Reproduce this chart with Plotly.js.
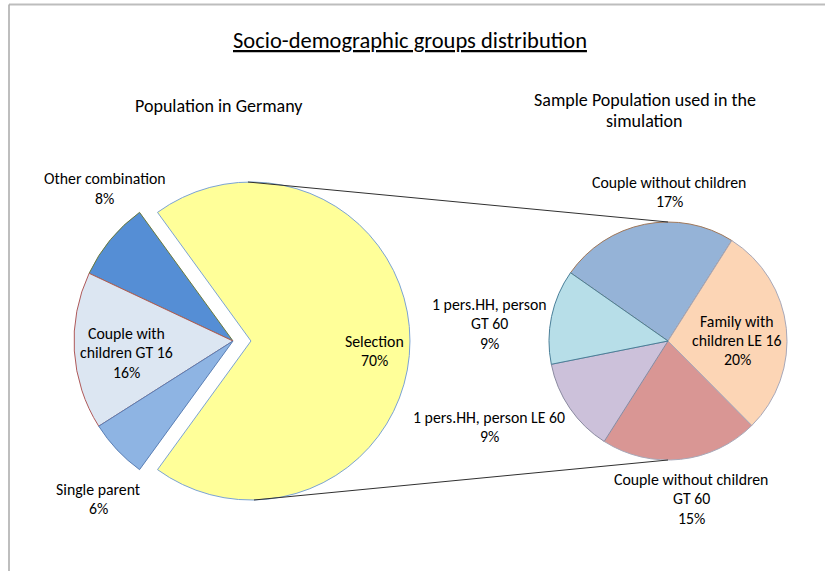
<!DOCTYPE html>
<html><head><meta charset="utf-8">
<script src="https://cdn.plot.ly/plotly-3.0.1.min.js"></script>
<style>html,body{margin:0;padding:0;background:#fff}</style>
</head><body><div id="chart" style="width:825px;height:571px"></div>
<script>
// ---------- data ----------
const chartTitle = 'Socio-demographic groups distribution';
const leftTitle = 'Population in Germany';
const rightTitle = 'Sample Population used in the<br>simulation';

const mainLabels = ['Selection', 'Other combination', 'Couple with children GT 16', 'Single parent'];
const mainText = ['Selection', 'Other combination', 'Couple with<br>children GT 16', 'Single parent'];
const mainValues = [70, 8, 16, 6];

const subLabels = ['Couple without children', 'Family with children LE 16', 'Couple without children GT 60', '1 pers.HH, person LE 60', '1 pers.HH, person GT 60'];
const subText = ['Couple without children', 'Family with<br>children LE 16', 'Couple without children<br>GT 60', '1 pers.HH, person LE 60', '1 pers.HH, person<br>GT 60'];
const subValues = [17, 20, 15, 9, 9];

// ---------- styles / layout ----------
const W = 825, H = 571;
const FONT = 'Carlito, Calibri, Lato, sans-serif';
const mainColors = ['#FFFF99', '#558ED5', '#DCE6F2', '#8EB4E3'];
const mainLines = ['#7BA3D4', '#6B7A3A', '#B05A5A', '#5A7FB5'];
const subColors = ['#95B3D7', '#FCD5B5', '#D99694', '#CCC1DA', '#B7DEE8'];
const subLines = ['#A0785A', '#A8A8B8', '#A8A8B8', '#8A8AA0', '#4A7F99'];

// geometry (pixels)
const L = {cx: 233, cy: 341, r: 159, pull: 0.113};
const R = {cx: 668, cy: 341, r: 119};
// label anchor positions (pixels: centre x, first-line y)
const mainPos = [[374, 341], [105, 179], [126, 333], [98, 489]];
const subPos = [[669, 182], [737, 321], [691, 479], [489, 417], [489, 304]];
const LINE = 19.5;

function domainOf(g, pull) {
  const half = g.r * (1 + (pull || 0));
  return {
    x: [(g.cx - half) / W, (g.cx + half) / W],
    y: [1 - (g.cy + half) / H, 1 - (g.cy - half) / H]
  };
}

const mainPull = mainValues.map((v, i) => i === 0 ? L.pull : 0);

const traces = [
  {
    type: 'pie', labels: mainLabels, values: mainValues, sort: false,
    direction: 'counterclockwise', rotation: -36, pull: mainPull,
    marker: {colors: mainColors, line: {color: mainLines, width: 1}},
    textinfo: 'none', hoverinfo: 'none', showlegend: false,
    domain: domainOf(L, L.pull)
  },
  {
    type: 'pie', labels: subLabels, values: subValues, sort: false,
    direction: 'clockwise', rotation: -55,
    marker: {colors: subColors, line: {color: subLines, width: 1}},
    textinfo: 'none', hoverinfo: 'none', showlegend: false,
    domain: domainOf(R, 0)
  }
];

const total = mainValues.reduce((a, b) => a + b, 0);
const annotations = [];
function addLabel(text, pos, size) {
  const lines = text.split('<br>');
  lines.forEach((ln, k) => {
    annotations.push({
      text: ln, xref: 'paper', yref: 'paper',
      x: pos[0] / W, y: 1 - (pos[1] + k * LINE) / H,
      xanchor: 'center', yanchor: 'middle', showarrow: false,
      font: {family: FONT, size: size || 15.8, color: '#000'}
    });
  });
}
mainText.forEach((t, i) => addLabel(t + '<br>' + Math.round(mainValues[i] / total * 100) + '%', mainPos[i]));
subText.forEach((t, i) => addLabel(t + '<br>' + Math.round(subValues[i] / total * 100) + '%', subPos[i]));
addLabel('<u>' + chartTitle + '</u>', [410, 40], 22.5);
addLabel(leftTitle, [219, 106], 18);
rightTitle.split('<br>').forEach((t, k) => addLabel(t, [[645, 100], [644, 121]][k], 18));

// connector lines between pies, derived from pie geometry
const selCx = L.cx + L.pull * L.r;
const px = (x) => x / W, py = (y) => 1 - y / H;
const shapes = [
  {type: 'line', xref: 'paper', yref: 'paper', x0: px(selCx - 3), y0: py(L.cy - L.r), x1: px(R.cx), y1: py(R.cy - R.r), line: {color: '#303030', width: 1}},
  {type: 'line', xref: 'paper', yref: 'paper', x0: px(selCx + 3), y0: py(L.cy + L.r), x1: px(R.cx), y1: py(R.cy + R.r), line: {color: '#303030', width: 1}},
  // chart-area border fragments
  {type: 'line', xref: 'paper', yref: 'paper', x0: px(9), y0: py(4.5), x1: px(825), y1: py(4.5), line: {color: '#BDBDBD', width: 2}},
  {type: 'line', xref: 'paper', yref: 'paper', x0: px(9), y0: py(4.5), x1: px(9), y1: py(571), line: {color: '#A8A8A8', width: 1.5}}
];

const layout = {
  width: W, height: H,
  margin: {l: 0, r: 0, t: 0, b: 0},
  paper_bgcolor: '#fff', plot_bgcolor: '#fff',
  showlegend: false,
  annotations: annotations,
  shapes: shapes,
  font: {family: FONT}
};
Plotly.newPlot('chart', traces, layout, {displayModeBar: false, staticPlot: true});
</script>
</body></html>
